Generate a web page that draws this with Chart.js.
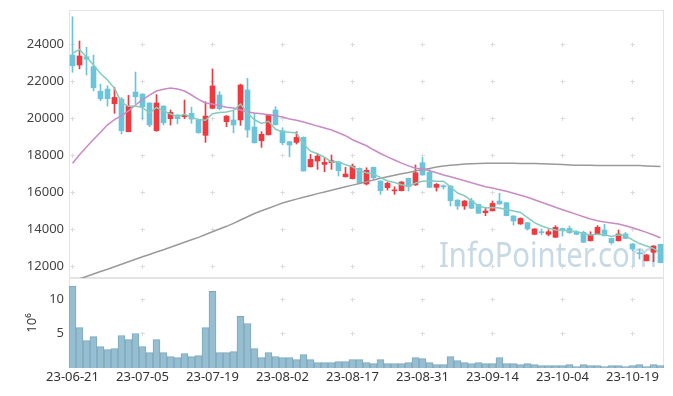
<!DOCTYPE html>
<html><head><meta charset="utf-8">
<script src="https://cdn.jsdelivr.net/npm/chart.js@4.4.0/dist/chart.umd.min.js"></script>
<style>html,body{margin:0;padding:0;background:#fff;}</style>
</head><body>
<canvas id="c" width="673" height="396"></canvas>
<script>
const dates = ['23-06-21','23-06-22','23-06-23','23-06-26','23-06-27','23-06-28','23-06-29','23-06-30','23-07-03','23-07-04',
'23-07-05','23-07-06','23-07-07','23-07-10','23-07-11','23-07-12','23-07-13','23-07-14','23-07-17','23-07-18',
'23-07-19','23-07-20','23-07-21','23-07-24','23-07-25','23-07-26','23-07-27','23-07-28','23-07-31','23-08-01',
'23-08-02','23-08-03','23-08-04','23-08-07','23-08-08','23-08-09','23-08-10','23-08-11','23-08-14','23-08-16',
'23-08-17','23-08-18','23-08-21','23-08-22','23-08-23','23-08-24','23-08-25','23-08-28','23-08-29','23-08-30',
'23-08-31','23-09-01','23-09-04','23-09-05','23-09-06','23-09-07','23-09-08','23-09-11','23-09-12','23-09-13',
'23-09-14','23-09-15','23-09-18','23-09-19','23-09-20','23-09-21','23-09-22','23-09-25','23-09-26','23-09-27',
'23-10-04','23-10-05','23-10-06','23-10-10','23-10-11','23-10-12','23-10-13','23-10-16','23-10-17','23-10-18',
'23-10-19','23-10-20','23-10-23','23-10-24','23-10-25'];

const open = [23420,22880,23330,22790,21460,21580,20790,21040,19280,21420,
21310,20830,19330,20660,19980,20180,20090,20270,19910,19080,
20540,21260,19820,19910,19910,21530,19530,18790,19110,20450,
19330,18740,18700,18970,17380,17690,17510,17600,17650,16840,
16740,17300,16450,17350,16610,16250,16080,16090,16760,16400,
17600,17080,16270,16360,16340,15580,15260,15550,15350,14900,
15000,15530,15440,14720,14290,14360,13730,13870,13730,13570,
14050,14050,13840,13840,13380,13730,13960,13510,13380,13750,
13210,12720,12300,12760,13190];

const close = [22840,23370,23200,21650,21060,21060,21130,19330,20660,21170,
20630,19640,20830,19760,20320,19980,20180,19960,19220,20120,
21750,20520,20120,19640,21800,19370,18680,19140,20200,19650,
18680,18560,18970,17150,17780,17960,17620,17710,17170,16990,
17420,16520,17190,16790,16090,16490,16120,16560,16300,17060,
16940,16270,16430,16300,15550,15260,15530,15140,14870,14990,
15400,15370,14740,14450,14590,14020,14020,13820,13870,14110,
13920,13820,13730,13300,13730,14110,13650,13280,13750,13510,
12940,12680,12610,13100,12200];

const high = [25490,24180,23840,23420,21850,21760,21680,21130,21240,22500,
21330,20840,21280,20680,20450,20200,20990,20600,19960,20900,
22670,21440,20150,20450,21850,22160,20270,19280,20220,20630,
19490,18760,19280,19000,18050,18110,17870,18020,17680,17350,
17530,17320,17330,17370,16630,16540,16300,16580,16770,17480,
17890,17240,16480,16400,16360,15600,15560,15680,15370,15190,
15530,15950,15460,14740,14620,14380,14040,14020,13980,14200,
14070,14180,13920,13900,13870,14200,14270,13530,13960,13830,
13230,12920,12650,13120,13200];

const low = [22490,22670,22340,21480,20950,20660,20270,19150,19270,20800,
19950,19550,19300,19640,19640,19700,19980,19730,19190,18700,
20520,20450,19550,19220,19620,18970,18660,18430,19100,19640,
18570,17920,18610,17150,17370,17240,17110,17240,16880,16830,
16720,16500,16400,16720,15890,16120,15890,16070,16070,16380,
16920,16250,16070,16180,15260,15080,15080,15120,14850,14740,
14990,15350,14730,14230,14270,13960,13720,13710,13650,13560,
13640,13780,13710,13280,13370,13720,13640,13190,13370,13490,
12840,12400,12290,12250,12190];

const ma5 = [23510,23720,23310,22880,22424,22068,21620,20846,20648,20670,
20584,20286,20586,20406,20236,20106,20214,20040,19932,19892,
20246,20314,20346,20430,20766,20290,19922,19726,19838,19408,
19270,19246,19212,18602,18228,18084,17896,17644,17648,17490,
17382,17162,17058,16982,16802,16616,16536,16410,16312,16506,
16596,16626,16600,16600,16298,15962,15814,15556,15270,15158,
15186,15154,15074,14990,14910,14634,14364,14180,14064,13968,
13948,13908,13890,13776,13700,13738,13704,13614,13704,13660,
13426,13232,13098,12968,12706];

const ma20 = [17568,18033,18450,18850,19250,19650,19930,20150,20400,20720,
21006,21260,21476,21568,21638,21584,21476,21260,21027,20827,
20773,20686,20600,20557,20449,20341,20287,20249,20195,20141,
20070,19962,19892,19800,19692,19580,19480,19368,19222,19060,
18843,18681,18519,18300,18100,17920,17750,17580,17430,17300,
17259,17168,17060,16935,16843,16735,16627,16519,16411,16303,
16233,16141,16054,15946,15838,15730,15600,15460,15330,15190,
15060,14935,14810,14680,14557,14465,14395,14341,14287,14195,
14087,13962,13838,13692,13546];

const ma120 = [11190,11331,11455,11585,11720,11844,11979,12114,12250,12385,
12514,12644,12774,12898,13028,13163,13298,13433,13568,13720,
13866,14017,14163,14320,14503,14682,14855,15001,15141,15282,
15422,15536,15633,15730,15828,15930,16022,16114,16206,16298,
16390,16482,16574,16665,16757,16844,16925,17000,17076,17152,
17227,17292,17368,17422,17460,17492,17525,17546,17563,17568,
17568,17568,17568,17568,17563,17557,17552,17546,17530,17514,
17498,17481,17470,17465,17460,17455,17455,17455,17455,17455,
17449,17444,17428,17411,17395];

// volume in units of 10^6 shares
const volume = [11.9,5.87,3.98,4.56,3.10,2.67,2.81,4.71,4.12,5.0,
3.10,2.23,4.12,2.23,1.65,1.50,2.08,1.65,1.79,5.87,
11.12,2.23,2.23,2.38,7.48,6.46,2.81,1.50,2.23,1.65,
1.50,1.50,1.21,1.94,1.21,0.77,0.77,0.77,0.92,0.92,
1.21,1.21,0.77,0.63,1.21,0.63,0.63,0.63,0.77,1.50,
1.36,0.77,0.48,0.48,1.65,1.06,0.77,0.63,0.77,0.63,
0.63,1.50,0.63,0.63,0.48,0.63,0.48,0.34,0.34,0.34,
0.34,0.48,0.19,0.48,0.34,0.34,0.19,0.34,0.34,0.19,
0.34,0.48,0.19,0.48,0.34];

const priceTicks = [12000,14000,16000,18000,20000,22000,24000];
const volumeTicks = [5,10];
const priceMin = 11370, priceMax = 25855;
const volumeMax = 13.06;
const watermark = 'InfoPointer.com';

const UP = '#f0393e', DOWN = '#6cc4da';
const candleColors = close.map((c, i) => c >= open[i] ? UP : DOWN);
const FONT = 'Noto Sans';

const decorPlugin = {
  id: 'decor',
  beforeDatasetsDraw(chart) {
    const ctx = chart.ctx, a = chart.chartArea;
    const sx = chart.scales.x, sy = chart.scales.y, sv = chart.scales.yv;
    ctx.save();
    ctx.strokeStyle = '#e4e4e4';
    ctx.lineWidth = 1;
    [sy, sv].forEach(s => {
      ctx.strokeRect(Math.round(a.left) + 0.5, Math.round(s.top) + 0.5,
        Math.round(a.right - a.left) - 1, Math.round(s.bottom - s.top) - 1);
    });
    ctx.strokeStyle = '#dcdcdc';
    const xs = dates.map((d, i) => i).filter(i => i % 10 === 0).map(i => sx.getPixelForValue(i));
    const ys = priceTicks.map(v => sy.getPixelForValue(v)).concat(volumeTicks.map(v => sv.getPixelForValue(v)));
    ctx.beginPath();
    xs.forEach(x => {
      const px = Math.round(x - 0.5) + 0.5;
      ys.forEach(y => {
        const py = Math.round(y - 0.5) + 0.5;
        ctx.moveTo(px - 2, py); ctx.lineTo(px + 2.5, py);
        ctx.moveTo(px, py - 2); ctx.lineTo(px, py + 2.5);
      });
    });
    ctx.stroke();
    ctx.fillStyle = '#c6d9e4';
    ctx.font = '34px "' + FONT + '"';
    ctx.textAlign = 'right';
    ctx.textBaseline = 'alphabetic';
    ctx.translate(a.right - 7, sy.bottom - 11);
    ctx.scale(0.86, 1);
    ctx.fillText(watermark, 0, 0);
    ctx.restore();
  },
  beforeDatasetDraw(chart, args) {
    const s = args.meta.yScale, a = chart.chartArea, ctx = chart.ctx;
    ctx.save();
    ctx.beginPath();
    ctx.rect(a.left, s.top, a.right - a.left, s.bottom - s.top);
    ctx.clip();
  },
  afterDatasetDraw(chart) { chart.ctx.restore(); }
};

const lineDs = (data, color) => ({
  type: 'line', data, yAxisID: 'y', borderColor: color, borderWidth: 1.5,
  pointRadius: 0, tension: 0, fill: false
});

const fitY = s => { s.width = 69; s.paddingTop = 0; s.paddingBottom = 0; };

new Chart(document.getElementById('c'), {
  data: {
    labels: dates,
    datasets: [
      lineDs(ma5, '#86cbbd'),
      lineDs(ma20, '#c88bc5'),
      lineDs(ma120, '#9a9a9a'),
      { type: 'bar', data: dates.map((d, i) => [open[i], close[i]]), yAxisID: 'y',
        backgroundColor: candleColors, barThickness: 5, minBarLength: 1, grouped: false, borderWidth: 0 },
      { type: 'bar', data: dates.map((d, i) => [low[i], high[i]]), yAxisID: 'y',
        backgroundColor: candleColors, barThickness: 1, grouped: false, borderWidth: 0 },
      { type: 'bar', data: volume, yAxisID: 'yv', backgroundColor: '#96bed0', borderColor: '#7ca7bc',
        borderWidth: 1, barPercentage: 1, categoryPercentage: 1, grouped: false }
    ]
  },
  options: {
    responsive: false, animation: false, devicePixelRatio: 1,
    layout: { padding: { left: 0, right: 9, top: 10, bottom: 0 } },
    plugins: { legend: { display: false }, tooltip: { enabled: false } },
    scales: {
      x: {
        type: 'category', offset: true,
        grid: { display: false, drawTicks: false }, border: { display: false },
        ticks: { autoSkip: false, maxRotation: 0, minRotation: 0, padding: 1, color: '#333',
          font: { family: FONT, size: 13 },
          callback: (v, i) => (i % 10 === 0 ? dates[i] : '') },
        afterFit: s => { s.height = 28; }
      },
      y: {
        type: 'linear', position: 'left', stack: 'main', stackWeight: 268, weight: 1,
        min: priceMin, max: priceMax,
        grid: { display: false, drawTicks: false }, border: { display: false },
        afterBuildTicks: s => { s.ticks = priceTicks.map(v => ({ value: v })); },
        ticks: { padding: 5, color: '#444', font: { family: FONT, size: 13 }, callback: v => String(v) },
        afterFit: fitY
      },
      yv: {
        type: 'linear', position: 'left', stack: 'main', stackWeight: 90, weight: 0,
        min: 0, max: volumeMax,
        grid: { display: false, drawTicks: false }, border: { display: false },
        afterBuildTicks: s => { s.ticks = volumeTicks.map(v => ({ value: v })); },
        ticks: { padding: 5, color: '#444', font: { family: FONT, size: 13 }, callback: v => String(v) },
        title: { display: true, text: '10⁶', color: '#333', font: { family: FONT, size: 13 },
          padding: { top: 24, bottom: 0 } },
        afterFit: fitY
      }
    }
  },
  plugins: [decorPlugin]
});
</script>
</body></html>
